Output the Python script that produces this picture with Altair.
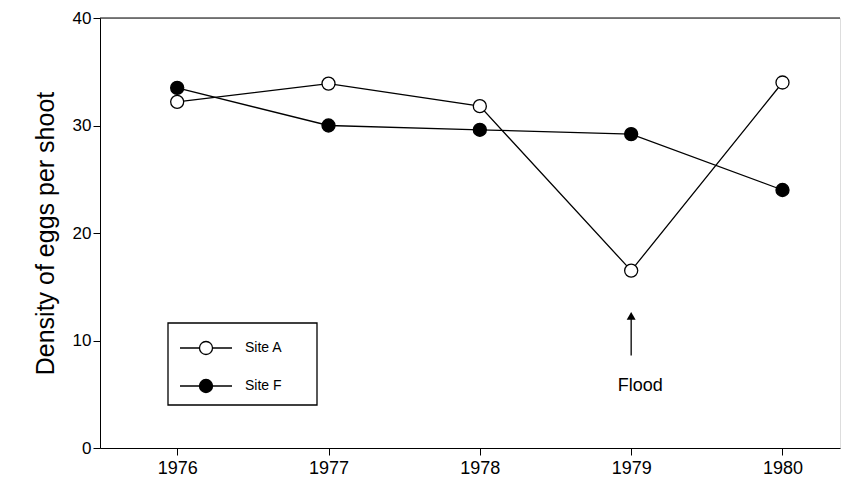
import altair as alt
import pandas as pd

years = [1976, 1977, 1978, 1979, 1980]
site_a = [32.2, 33.9, 31.8, 16.5, 34.0]
site_f = [33.5, 30.0, 29.6, 29.2, 24.0]

df = pd.DataFrame({
    'Year': years * 2,
    'Density': site_a + site_f,
    'Site': ['Site A'] * 5 + ['Site F'] * 5,
})

FONT = 'Liberation Sans'
xscale = alt.Scale(domain=[1975.49, 1980.38], nice=False, zero=False)
yscale = alt.Scale(domain=[0, 40], nice=False)

base = alt.Chart(df)
lines = base.mark_line(color='black', strokeWidth=1.3).encode(
    x=alt.X('Year:Q', scale=xscale,
            axis=alt.Axis(values=years, format='d', title=None, grid=False,
                          labelFontSize=18, labelFont=FONT, labelColor='black',
                          domainColor='black', tickColor='black', tickSize=7, labelPadding=4)),
    y=alt.Y('Density:Q', scale=yscale,
            axis=alt.Axis(values=[0, 10, 20, 30, 40], title='Density of eggs per shoot', grid=False,
                          labelFontSize=17, labelFont=FONT, labelColor='black',
                          titleFontSize=25, titleFont=FONT, titleFontWeight='normal',
                          titleColor='black', titlePadding=14,
                          domainColor='black', tickColor='black', tickSize=7)),
    detail='Site:N',
)
points = base.mark_point(size=170, strokeWidth=1.3, opacity=1).encode(
    x=alt.X('Year:Q', scale=xscale),
    y=alt.Y('Density:Q', scale=yscale),
    fill=alt.Fill('Site:N', scale=alt.Scale(domain=['Site A', 'Site F'], range=['white', 'black']), legend=None),
    stroke=alt.value('black'),
)

top = alt.Chart(pd.DataFrame({'a': [0]})).mark_rule(color='black').encode(
    x=alt.value(0), x2=alt.value(740), y=alt.value(0))

# flood annotation
ann = pd.DataFrame({'x': [1979], 'y1': [8.6], 'y2': [12.0]})
arrow = alt.Chart(ann).mark_rule(color='black', strokeWidth=1.3).encode(
    x=alt.X('x:Q', scale=xscale), y=alt.Y('y1:Q', scale=yscale), y2='y2:Q')
head = alt.Chart(pd.DataFrame({'x': [1979], 'y': [12.3]})).mark_point(
    shape='triangle-up', filled=True, color='black', size=80, opacity=1).encode(
    x=alt.X('x:Q', scale=xscale), y=alt.Y('y:Q', scale=yscale))
flood = alt.Chart(pd.DataFrame({'x': [1979.06], 'y': [5.8], 't': ['Flood']})).mark_text(
    fontSize=18, font=FONT, align='center', color='black').encode(
    x=alt.X('x:Q', scale=xscale), y=alt.Y('y:Q', scale=yscale), text='t:N')

# legend box
box = alt.Chart(pd.DataFrame({'a': [0]})).mark_rect(fill='white', stroke='black', strokeWidth=1.3).encode(
    x=alt.value(68), x2=alt.value(217), y=alt.value(305), y2=alt.value(387))
leg = pd.DataFrame({'Site': ['Site A', 'Site F'], 'py': [330, 368]})
leg_lines = alt.Chart(leg).mark_rule(color='black', strokeWidth=1.3).encode(
    x=alt.value(80), x2=alt.value(132), y=alt.Y('py:Q', scale=None))
leg_pts = alt.Chart(leg).mark_point(size=170, strokeWidth=1.3, opacity=1).encode(
    x=alt.value(106), y=alt.Y('py:Q', scale=None),
    fill=alt.Fill('Site:N', scale=alt.Scale(domain=['Site A', 'Site F'], range=['white', 'black']), legend=None),
    stroke=alt.value('black'))
leg_txt = alt.Chart(leg).mark_text(align='left', fontSize=14, font=FONT, color='black').encode(
    x=alt.value(145), y=alt.Y('py:Q', scale=None), text='Site:N')

chart = alt.layer(top, lines, points, arrow, head, flood, box, leg_lines, leg_pts, leg_txt).properties(
    width=740, height=430,
    autosize=alt.AutoSizeParams(type='none'),
    padding={'left': 92, 'top': 10, 'right': 4, 'bottom': 30},
).configure_view(stroke=None).configure(background='white')

chart.save("out.html", embed_options={"renderer": "svg", "actions": False})
